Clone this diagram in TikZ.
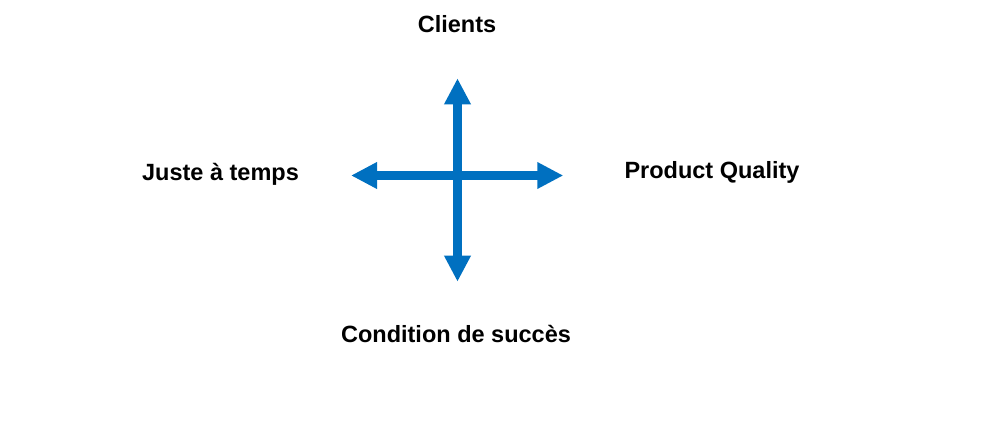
\documentclass[tikz,border=0pt]{standalone}
\usepackage{fontspec}
\setmainfont{Liberation Sans}
\usetikzlibrary{arrows.meta}
\definecolor{officeblue}{HTML}{0070C0}
\tikzstyle{word}=[font=\fontsize{23.5}{28}\selectfont\bfseries, inner sep=0pt, anchor=base]
\tikzstyle{edge} = [draw, officeblue, line width=8.5pt, {Triangle[width=25pt,length=26pt]}-{Triangle[width=25pt,length=26pt]}]

\begin{document}
\begin{tikzpicture}[x=1pt, y=-1pt]
    \useasboundingbox (0,0) rectangle (990,425);
    \foreach \pos/\name/\txt in {
                            {(457,32.7)/clients/Clients},
                            {(220.5,180.3)/juste/Juste à temps},
                            {(712,178.7)/quality/Product Quality},
                            {(456,342.7)/succes/Condition de succès}}
        \node[word] (\name) at \pos {\txt};

    % Tips of the two double arrows
    \foreach \pos/\name in {
                            {(457.5,78.3)/top},
                            {(457.5,281.7)/bottom},
                            {(351,175.5)/left},
                            {(563.3,175.5)/right}}
        \node[coordinate] (\name) at \pos {};

    \foreach \source/ \dest in {left/right, top/bottom}
        \path[edge] (\source) -- (\dest);

\end{tikzpicture}
\end{document}
